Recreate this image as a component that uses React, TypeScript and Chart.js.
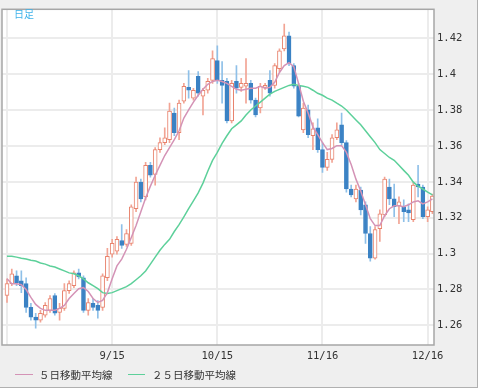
import { useEffect, useRef } from "react";
import { Chart, registerables } from "chart.js";

Chart.register(...registerables);

// x ticks (trading-day index -> month label)
const xTickIndex = [0, 22, 44, 66, 88];
const xTickLabels = ["", "9/15", "10/15", "11/16", "12/16"];
const yTicks = [1.26, 1.28, 1.3, 1.32, 1.34, 1.36, 1.38, 1.4, 1.42];

const open = [
  1.2766, 1.2832, 1.2876, 1.2848, 1.2832, 1.2700, 1.2645, 1.2628, 1.2656, 1.2683,
  1.2766, 1.2672, 1.2694, 1.2793, 1.2821, 1.2892, 1.2865, 1.2683, 1.2722, 1.2711,
  1.2700, 1.2865, 1.2996, 1.3013, 1.3073, 1.3051, 1.3057, 1.3250, 1.3398, 1.3316,
  1.3492, 1.3442, 1.3580, 1.3619, 1.3635, 1.3784, 1.3674, 1.3850, 1.3927, 1.3867,
  1.3988, 1.3878, 1.3911, 1.3966, 1.4076, 1.3966, 1.3960, 1.3740, 1.3960, 1.3927,
  1.3933, 1.3949, 1.3856, 1.3812, 1.3927, 1.3966, 1.3938, 1.4032, 1.4142, 1.4214,
  1.4048, 1.3933, 1.3690, 1.3801, 1.3657, 1.3701, 1.3580, 1.3481, 1.3525, 1.3646,
  1.3718, 1.3619, 1.3360, 1.3305, 1.3354, 1.3272, 1.3112, 1.2974, 1.3139, 1.3216,
  1.3371, 1.3305, 1.3266, 1.3261, 1.3244, 1.3189, 1.3387, 1.3371, 1.3205, 1.3233,
];

const high = [
  1.2859, 1.2914, 1.2903, 1.2903, 1.2865, 1.2722, 1.2667, 1.2683, 1.2727, 1.2766,
  1.2777, 1.2722, 1.2832, 1.2848, 1.2903, 1.2914, 1.2876, 1.2749, 1.2749, 1.2738,
  1.2887, 1.3029, 1.3079, 1.3095, 1.3161, 1.3134, 1.3272, 1.3426, 1.3415, 1.3509,
  1.3509, 1.3591, 1.3646, 1.3701, 1.3839, 1.3812, 1.3856, 1.3949, 1.4021, 1.3922,
  1.4015, 1.3922, 1.3977, 1.4131, 1.4159, 1.4071, 1.3977, 1.3966, 1.4048, 1.3977,
  1.4087, 1.3966, 1.3867, 1.3949, 1.3949, 1.4021, 1.4060, 1.4142, 1.4280, 1.4236,
  1.4060, 1.3949, 1.3839, 1.3828, 1.3729, 1.3751, 1.3619, 1.3564, 1.3663, 1.3729,
  1.3784, 1.3630, 1.3382, 1.3382, 1.3371, 1.3288, 1.3150, 1.3150, 1.3244, 1.3426,
  1.3415, 1.3387, 1.3316, 1.3299, 1.3277, 1.3398, 1.3492, 1.3382, 1.3261, 1.3332,
];

const low = [
  1.2727, 1.2821, 1.2821, 1.2782, 1.2672, 1.2628, 1.2584, 1.2617, 1.2645, 1.2672,
  1.2656, 1.2628, 1.2683, 1.2777, 1.2810, 1.2859, 1.2672, 1.2656, 1.2683, 1.2639,
  1.2683, 1.2848, 1.2980, 1.2996, 1.3029, 1.3040, 1.3046, 1.3233, 1.3288, 1.3299,
  1.3426, 1.3382, 1.3564, 1.3608, 1.3619, 1.3657, 1.3635, 1.3839, 1.3867, 1.3856,
  1.3878, 1.3773, 1.3894, 1.3949, 1.3949, 1.3839, 1.3729, 1.3729, 1.3894, 1.3905,
  1.3839, 1.3839, 1.3762, 1.3784, 1.3916, 1.3878, 1.3922, 1.4015, 1.4131, 1.4048,
  1.3922, 1.3762, 1.3674, 1.3646, 1.3580, 1.3564, 1.3453, 1.3464, 1.3509, 1.3635,
  1.3608, 1.3343, 1.3316, 1.3288, 1.3216, 1.3057, 1.2958, 1.2969, 1.3068, 1.3205,
  1.3272, 1.3205, 1.3167, 1.3178, 1.3178, 1.3178, 1.3316, 1.3194, 1.3178, 1.3222,
];

const close = [
  1.2832, 1.2887, 1.2837, 1.2821, 1.2700, 1.2645, 1.2628, 1.2667, 1.2711, 1.2749,
  1.2667, 1.2694, 1.2793, 1.2832, 1.2892, 1.2870, 1.2683, 1.2727, 1.2700, 1.2683,
  1.2876, 1.2985, 1.3057, 1.3079, 1.3046, 1.3112, 1.3261, 1.3398, 1.3305, 1.3492,
  1.3437, 1.3580, 1.3619, 1.3646, 1.3795, 1.3674, 1.3839, 1.3933, 1.3911, 1.3911,
  1.3894, 1.3911, 1.3960, 1.4087, 1.3966, 1.3938, 1.3740, 1.3949, 1.3922, 1.3949,
  1.3949, 1.3856, 1.3773, 1.3933, 1.3938, 1.3894, 1.4048, 1.4131, 1.4214, 1.4060,
  1.3933, 1.3767, 1.3812, 1.3663, 1.3696, 1.3580, 1.3481, 1.3525, 1.3646, 1.3690,
  1.3619, 1.3360, 1.3327, 1.3360, 1.3244, 1.3112, 1.2974, 1.3134, 1.3222, 1.3415,
  1.3305, 1.3261, 1.3288, 1.3233, 1.3227, 1.3382, 1.3371, 1.3205, 1.3244, 1.3321,
];

const ma5 = [
  1.2859, 1.2832, 1.2832, 1.2826, 1.2799, 1.2755, 1.2716, 1.2694, 1.2683, 1.2683,
  1.2683, 1.2694, 1.2711, 1.2749, 1.2777, 1.2804, 1.2810, 1.2788, 1.2749, 1.2727,
  1.2738, 1.2782, 1.2859, 1.2931, 1.2969, 1.3024, 1.3090, 1.3156, 1.3233, 1.3310,
  1.3376, 1.3437, 1.3492, 1.3547, 1.3591, 1.3635, 1.3685, 1.3756, 1.3801, 1.3845,
  1.3883, 1.3916, 1.3944, 1.3960, 1.3966, 1.3960, 1.3949, 1.3933, 1.3916, 1.3911,
  1.3916, 1.3922, 1.3922, 1.3933, 1.3922, 1.3927, 1.3955, 1.4010, 1.4048, 1.4065,
  1.4043, 1.3949, 1.3850, 1.3784, 1.3707, 1.3663, 1.3619, 1.3580, 1.3586, 1.3602,
  1.3602, 1.3564, 1.3497, 1.3415, 1.3349, 1.3272, 1.3194, 1.3156, 1.3156, 1.3211,
  1.3250, 1.3266, 1.3266, 1.3261, 1.3272, 1.3288, 1.3294, 1.3277, 1.3288, 1.3305,
];

const ma25 = [
  1.2985, 1.2985, 1.2980, 1.2974, 1.2969, 1.2963, 1.2958, 1.2947, 1.2941, 1.2931,
  1.2925, 1.2914, 1.2903, 1.2892, 1.2887, 1.2876, 1.2859, 1.2837, 1.2821, 1.2804,
  1.2782, 1.2777, 1.2782, 1.2793, 1.2804, 1.2815, 1.2832, 1.2854, 1.2876, 1.2903,
  1.2941, 1.2980, 1.3018, 1.3051, 1.3079, 1.3123, 1.3161, 1.3205, 1.3250, 1.3294,
  1.3338, 1.3393, 1.3459, 1.3520, 1.3564, 1.3614, 1.3657, 1.3696, 1.3718, 1.3740,
  1.3773, 1.3801, 1.3823, 1.3845, 1.3867, 1.3889, 1.3905, 1.3916, 1.3927, 1.3938,
  1.3944, 1.3938, 1.3933, 1.3927, 1.3911, 1.3894, 1.3883, 1.3867, 1.3856, 1.3839,
  1.3823, 1.3801, 1.3773, 1.3745, 1.3718, 1.3685, 1.3652, 1.3619, 1.3580, 1.3558,
  1.3536, 1.3520, 1.3492, 1.3464, 1.3437, 1.3398, 1.3376, 1.3360, 1.3343, 1.3327,
];

const seriesLabels = ["５日移動平均線", "２５日移動平均線"];

const RED = "#e8826c";
const RED_WICK = "#f2a494";
const BLUE = "#3b82c4";
const BLUE_WICK = "#8fc0e8";
const PINK = "#d493b6";
const GREEN = "#5dd09a";
const GRID = "#ececec";
const TICK_FONT = { family: '"DejaVu Sans Mono", monospace', size: 10.5 };
const CJK = '"Noto Sans CJK JP", "Noto Sans", sans-serif';

export default function App() {
  const ref = useRef<HTMLCanvasElement>(null);

  useEffect(() => {
    const idx = open.map((_, i) => i);
    const up = idx.map((i) => close[i] >= open[i]);

    const frame = {
      id: "frame",
      beforeDraw(chart: any) {
        const { ctx, chartArea: a } = chart;
        ctx.save();
        ctx.fillStyle = "#ffffff";
        ctx.fillRect(a.left, a.top, a.right - a.left, a.bottom - a.top);
        ctx.restore();
      },
      afterDraw(chart: any) {
        const { ctx, chartArea: a } = chart;
        ctx.save();
        ctx.strokeStyle = "#a6a6a6";
        ctx.lineWidth = 1.5;
        ctx.strokeRect(a.left, a.top, a.right - a.left, a.bottom - a.top);
        ctx.restore();
      },
    };

    const chart = new Chart(ref.current!, {
      type: "bar",
      data: {
        datasets: [
          {
            type: "line",
            label: seriesLabels[0],
            data: idx.map((i) => ({ x: i, y: ma5[i] })),
            borderColor: PINK,
            borderWidth: 1.5,
            pointRadius: 0,
            order: 0,
          },
          {
            type: "line",
            label: seriesLabels[1],
            data: idx.map((i) => ({ x: i, y: ma25[i] })),
            borderColor: GREEN,
            borderWidth: 1.5,
            pointRadius: 0,
            order: 0,
          },
          {
            type: "bar",
            label: "body",
            data: idx.map((i) => ({ x: i, y: [open[i], close[i]] })),
            backgroundColor: up.map((u) => (u ? "#ffffff" : BLUE)),
            borderColor: up.map((u) => (u ? RED : BLUE)),
            borderWidth: 1,
            borderSkipped: false,
            barThickness: 4,
            grouped: false,
            order: 1,
          },
          {
            type: "bar",
            label: "wick",
            data: idx.map((i) => ({ x: i, y: [low[i], high[i]] })),
            backgroundColor: up.map((u) => (u ? RED_WICK : BLUE_WICK)),
            borderWidth: 0,
            barThickness: 1,
            grouped: false,
            order: 2,
          },
        ] as any,
      },
      options: {
        animation: false,
        responsive: false,
        layout: { padding: { left: 2, top: 5, right: 0, bottom: 0 } },
        plugins: { legend: { display: false }, tooltip: { enabled: false } },
        scales: {
          x: {
            type: "linear",
            min: -1.046,
            max: 89.33,
            offset: false,
            grid: { offset: false, color: GRID, lineWidth: 2, drawTicks: false },
            border: { display: false },
            afterBuildTicks: (s: any) => {
              s.ticks = xTickIndex.map((v) => ({ value: v }));
            },
            afterFit: (s: any) => {
              s.height = 43;
            },
            ticks: {
              autoSkip: false,
              maxRotation: 0,
              padding: 5,
              color: "#333",
              font: TICK_FONT,
              callback: (v: any) => {
                const k = xTickIndex.indexOf(Number(v));
                return k >= 0 ? xTickLabels[k] : "";
              },
            },
          },
          y: {
            type: "linear",
            position: "right",
            min: 1.24898,
            max: 1.43625,
            grid: { color: GRID, lineWidth: 2, drawTicks: false },
            border: { display: false },
            afterBuildTicks: (s: any) => {
              s.ticks = yTicks.map((v) => ({ value: v }));
            },
            afterFit: (s: any) => {
              s.width = 44;
            },
            ticks: {
              padding: 3,
              color: "#333",
              font: TICK_FONT,
              callback: (v: any) => String(v),
            },
          },
        },
      } as any,
      plugins: [frame],
    });
    return () => chart.destroy();
  }, []);

  return (
    <div
      style={{
        position: "fixed",
        left: 0,
        top: 0,
        width: 478,
        height: 388,
        background: "#efefef",
        boxSizing: "border-box",
        borderRight: "1px solid #b0b0b0",
        borderBottom: "1px solid #b0b0b0",
        overflow: "hidden",
      }}
    >
      <canvas
        ref={ref}
        width={478}
        height={388}
        style={{ position: "absolute", left: 0, top: 0, width: 478, height: 388 }}
      />
      <div
        style={{
          position: "absolute",
          left: 14,
          top: 8,
          fontFamily: CJK,
          fontSize: 10,
          lineHeight: "12px",
          color: "#3eb2ea",
        }}
      >
        日足
      </div>
      <div style={{ position: "absolute", left: 15, top: 374, width: 18, borderTop: `1.5px solid ${PINK}` }} />
      <div
        style={{
          position: "absolute",
          left: 39,
          top: 368,
          fontFamily: CJK,
          fontSize: 10.5,
          lineHeight: "14px",
          color: "#333",
          whiteSpace: "nowrap",
        }}
      >
        {seriesLabels[0]}
      </div>
      <div style={{ position: "absolute", left: 128, top: 374, width: 17, borderTop: `1.5px solid ${GREEN}` }} />
      <div
        style={{
          position: "absolute",
          left: 152,
          top: 368,
          fontFamily: CJK,
          fontSize: 10.5,
          lineHeight: "14px",
          color: "#333",
          whiteSpace: "nowrap",
        }}
      >
        {seriesLabels[1]}
      </div>
    </div>
  );
}
